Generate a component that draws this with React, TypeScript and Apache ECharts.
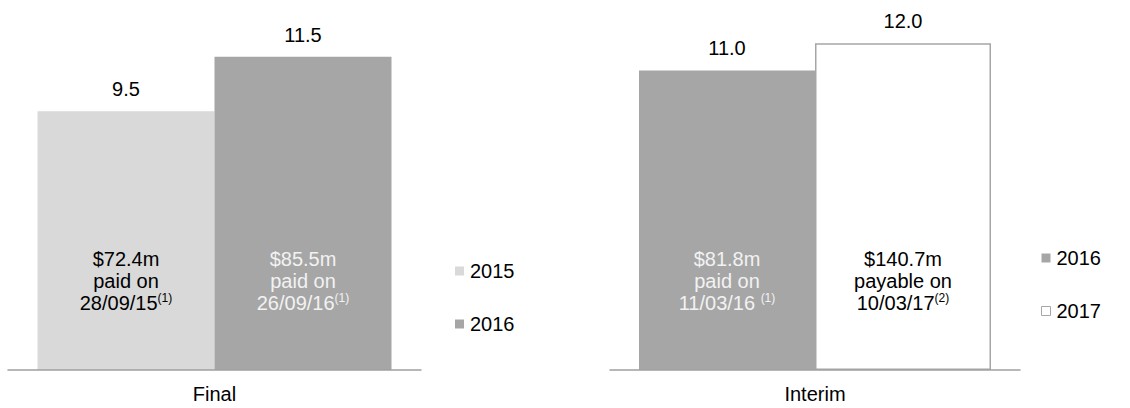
import React, { useEffect, useRef } from "react";
import * as echarts from "echarts";

const finalCategories = ["Final"];
const finalYears = ["2015", "2016"];
const finalValues = [9.5, 11.5];
const finalAmounts = ["$72.4m", "$85.5m"];
const finalVerbs = ["paid on", "paid on"];
const finalDates = ["28/09/15", "26/09/16"];
const finalNotes = ["(1)", "(1)"];

const interimCategories = ["Interim"];
const interimYears = ["2016", "2017"];
const interimValues = [11.0, 12.0];
const interimAmounts = ["$81.8m", "$140.7m"];
const interimVerbs = ["paid on", "payable on"];
const interimDates = ["11/03/16 ", "10/03/17"];
const interimNotes = ["(1)", "(2)"];

const yearColors: Record<string, string> = { "2015": "#d9d9d9", "2016": "#a6a6a6", "2017": "#ffffff" };
const yearBorders: Record<string, string> = { "2015": "#d9d9d9", "2016": "#a6a6a6", "2017": "#a6a6a6" };
const yearText: Record<string, string> = { "2015": "#000000", "2016": "#f2f2f2", "2017": "#000000" };

const FONT = "'Liberation Sans', Arial, sans-serif";
const FS = 20;
const GRID_TOP = 16;
const GRID_H = 354;

export default function App() {
  const ref = useRef<HTMLDivElement>(null);
  useEffect(() => {
    document.body.style.margin = "0";
    const chart = echarts.init(ref.current!, null, { renderer: "svg" });

    const grids = [
      { left: 8, width: 413, top: GRID_TOP, height: GRID_H },
      { left: 610, width: 410, top: GRID_TOP, height: GRID_H },
    ];
    const barWidths = [177, 176];

    const xAxes: any[] = [];
    const yAxes: any[] = [];
    const series: any[] = [];
    const groups = [
      { cats: finalCategories, years: finalYears, values: finalValues, amounts: finalAmounts, verbs: finalVerbs, dates: finalDates, notes: finalNotes },
      { cats: interimCategories, years: interimYears, values: interimValues, amounts: interimAmounts, verbs: interimVerbs, dates: interimDates, notes: interimNotes },
    ];

    groups.forEach((g, gi) => {
      xAxes.push({
        type: "category", gridIndex: gi, data: g.cats,
        axisLine: { show: true, lineStyle: { color: "#a0a0a0", width: 1.5 } },
        axisTick: { show: false },
        axisLabel: { color: "#000", fontSize: FS, fontFamily: FONT, margin: 14 },
        z: 10,
      });
      xAxes.push({ type: "category", gridIndex: gi, data: g.cats, show: false });
      yAxes.push({ type: "value", gridIndex: gi, min: 0, max: 13, show: false, splitLine: { show: false } });
      g.years.forEach((y, i) => {
        series.push({
          type: "bar", name: y, xAxisIndex: gi * 2, yAxisIndex: gi,
          barWidth: barWidths[gi], barGap: "0%",
          data: [g.values[i]],
          itemStyle: { color: yearColors[y], borderColor: yearBorders[y], borderWidth: y === "2017" ? 1.5 : 0 },
          label: {
            show: true, position: "insideBottom", distance: 56,
            formatter: `{a|${g.amounts[i]}}\n{a|${g.verbs[i]}}\n{a|${g.dates[i]}}{s|${g.notes[i]}}`,
            rich: {
              a: { fontSize: FS, lineHeight: 22, color: yearText[y], fontFamily: FONT },
              s: { fontSize: 12, lineHeight: 22, verticalAlign: "top", padding: [0, 0, 9, 0], color: yearText[y], fontFamily: FONT },
            },
          },
          silent: true,
        });
        series.push({
          type: "bar", name: "_top" + gi + "_" + y, xAxisIndex: gi * 2 + 1, yAxisIndex: gi,
          barWidth: barWidths[gi], barGap: "0%",
          data: [g.values[i]],
          itemStyle: { color: "transparent" },
          label: {
            show: true, position: "top", distance: 12,
            formatter: (p: any) => Number(p.value).toFixed(1),
            fontSize: FS, color: "#000", fontFamily: FONT,
          },
          silent: true,
        });
      });
    });

    const legendItem = (y: string) => ({
      name: y,
      itemStyle: { color: yearColors[y], borderColor: yearBorders[y], borderWidth: y === "2017" ? 1 : 0 },
    });

    chart.setOption({
      animation: false,
      grid: grids,
      xAxis: xAxes,
      yAxis: yAxes,
      series,
      legend: [
        {
          orient: "vertical", left: 455, top: 261, itemWidth: 9, itemHeight: 9, itemGap: 33,
          icon: "rect", data: finalYears.map(legendItem), padding: 0,
          textStyle: { fontSize: FS, color: "#000", fontFamily: FONT, padding: [0, 0, 0, 1] },
        },
        {
          orient: "vertical", left: 1041, top: 248, itemWidth: 9, itemHeight: 9, itemGap: 33,
          icon: "rect", data: interimYears.map(legendItem), padding: 0,
          textStyle: { fontSize: FS, color: "#000", fontFamily: FONT, padding: [0, 0, 0, 1] },
        },
      ],
    });
    return () => chart.dispose();
  }, []);
  return <div ref={ref} style={{ width: 1130, height: 408 }} />;
}
